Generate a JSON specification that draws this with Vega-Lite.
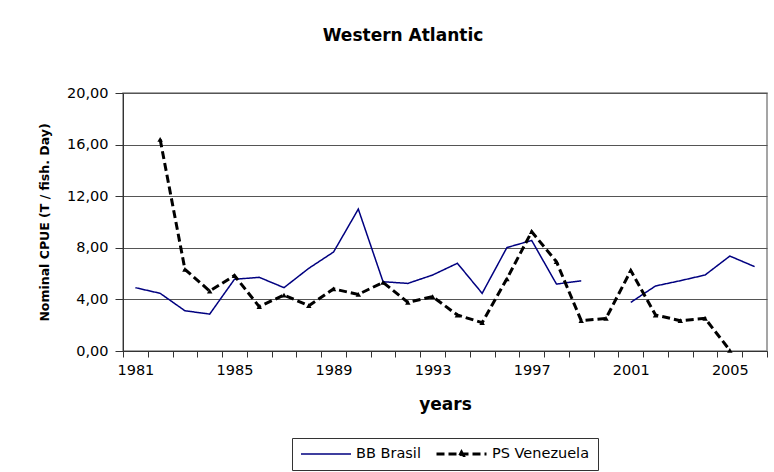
{
  "$schema": "https://vega.github.io/schema/vega-lite/v6.json",
  "autosize": {"type": "none"},
  "padding": {"left": 123, "top": 93, "right": 7, "bottom": 121},
  "width": 644,
  "height": 258,
  "background": "white",
  "title": {
    "text": "Western Atlantic",
    "anchor": "middle",
    "dx": -42,
    "offset": 40,
    "font": "DejaVu Sans",
    "fontSize": 17,
    "fontWeight": "bold",
    "color": "#000"
  },
  "data": {
    "values": [
      {"year": 1981, "series": "BB Brasil", "cpue": 4.91},
      {"year": 1982, "series": "BB Brasil", "cpue": 4.47},
      {"year": 1983, "series": "BB Brasil", "cpue": 3.12},
      {"year": 1984, "series": "BB Brasil", "cpue": 2.86},
      {"year": 1985, "series": "BB Brasil", "cpue": 5.56},
      {"year": 1986, "series": "BB Brasil", "cpue": 5.71},
      {"year": 1987, "series": "BB Brasil", "cpue": 4.91},
      {"year": 1988, "series": "BB Brasil", "cpue": 6.41},
      {"year": 1989, "series": "BB Brasil", "cpue": 7.67},
      {"year": 1990, "series": "BB Brasil", "cpue": 11.0},
      {"year": 1991, "series": "BB Brasil", "cpue": 5.37},
      {"year": 1992, "series": "BB Brasil", "cpue": 5.24},
      {"year": 1993, "series": "BB Brasil", "cpue": 5.89},
      {"year": 1994, "series": "BB Brasil", "cpue": 6.8},
      {"year": 1995, "series": "BB Brasil", "cpue": 4.47},
      {"year": 1996, "series": "BB Brasil", "cpue": 8.02},
      {"year": 1997, "series": "BB Brasil", "cpue": 8.57},
      {"year": 1998, "series": "BB Brasil", "cpue": 5.19},
      {"year": 1999, "series": "BB Brasil", "cpue": 5.44},
      {"year": 2000, "series": "BB Brasil", "cpue": null},
      {"year": 2001, "series": "BB Brasil", "cpue": 3.77},
      {"year": 2002, "series": "BB Brasil", "cpue": 5.04},
      {"year": 2003, "series": "BB Brasil", "cpue": 5.45},
      {"year": 2004, "series": "BB Brasil", "cpue": 5.89},
      {"year": 2005, "series": "BB Brasil", "cpue": 7.36},
      {"year": 2006, "series": "BB Brasil", "cpue": 6.54},
      {"year": 1982, "series": "PS Venezuela", "cpue": 16.4},
      {"year": 1983, "series": "PS Venezuela", "cpue": 6.33},
      {"year": 1984, "series": "PS Venezuela", "cpue": 4.65},
      {"year": 1985, "series": "PS Venezuela", "cpue": 5.85},
      {"year": 1986, "series": "PS Venezuela", "cpue": 3.44},
      {"year": 1987, "series": "PS Venezuela", "cpue": 4.34},
      {"year": 1988, "series": "PS Venezuela", "cpue": 3.51},
      {"year": 1989, "series": "PS Venezuela", "cpue": 4.81},
      {"year": 1990, "series": "PS Venezuela", "cpue": 4.39},
      {"year": 1991, "series": "PS Venezuela", "cpue": 5.32},
      {"year": 1992, "series": "PS Venezuela", "cpue": 3.77},
      {"year": 1993, "series": "PS Venezuela", "cpue": 4.21},
      {"year": 1994, "series": "PS Venezuela", "cpue": 2.79},
      {"year": 1995, "series": "PS Venezuela", "cpue": 2.2},
      {"year": 1996, "series": "PS Venezuela", "cpue": 5.6},
      {"year": 1997, "series": "PS Venezuela", "cpue": 9.25},
      {"year": 1998, "series": "PS Venezuela", "cpue": 6.92},
      {"year": 1999, "series": "PS Venezuela", "cpue": 2.35},
      {"year": 2000, "series": "PS Venezuela", "cpue": 2.53},
      {"year": 2001, "series": "PS Venezuela", "cpue": 6.23},
      {"year": 2002, "series": "PS Venezuela", "cpue": 2.79},
      {"year": 2003, "series": "PS Venezuela", "cpue": 2.35},
      {"year": 2004, "series": "PS Venezuela", "cpue": 2.53},
      {"year": 2005, "series": "PS Venezuela", "cpue": 0.05}
    ]
  },
  "encoding": {
    "x": {
      "field": "year",
      "type": "ordinal",
      "bandPosition": 0.5,
      "scale": {"type": "band", "paddingInner": 0, "paddingOuter": 0},
      "axis": {
        "title": "years",
        "titleFont": "DejaVu Sans",
        "titleFontSize": 17,
        "titleFontWeight": "bold",
        "titleColor": "#000",
        "titlePadding": 20,
        "labelAngle": 0,
        "labelFont": "DejaVu Sans",
        "labelFontSize": 14.5,
        "labelColor": "#000",
        "labelPadding": 6,
        "labelExpr": "(datum.value - 1981) % 4 === 0 ? datum.label : ''",
        "tickBand": "extent",
        "tickSize": 6,
        "tickColor": "#333",
        "domainColor": "#333",
        "grid": false
      }
    },
    "y": {
      "field": "cpue",
      "type": "quantitative",
      "scale": {"domain": [0, 20]},
      "axis": {
        "title": "Nominal CPUE (T / fish. Day)",
        "titleFont": "DejaVu Sans",
        "titleFontSize": 12.5,
        "titleFontWeight": "bold",
        "titleColor": "#000",
        "titlePadding": 15,
        "values": [0, 4, 8, 12, 16, 20],
        "labelExpr": "replace(format(datum.value, '.2f'), '.', ',')",
        "labelFont": "DejaVu Sans",
        "labelFontSize": 14.5,
        "labelColor": "#000",
        "labelPadding": 7,
        "tickSize": 8,
        "tickColor": "#333",
        "domainColor": "#333",
        "grid": true,
        "gridColor": "#555",
        "gridWidth": 1
      }
    }
  },
  "layer": [
    {
      "mark": {"type": "line", "invalid": "break-paths-show-domains"},
      "encoding": {
        "color": {
          "field": "series",
          "type": "nominal",
          "title": null,
          "scale": {"domain": ["BB Brasil", "PS Venezuela"], "range": ["#000080", "#000000"]},
          "legend": {
            "encode": {
              "symbols": {
                "update": {
                  "shape": {"signal": "datum.value === 'PS Venezuela' ? 'M-1,0H1M-0.07,0.06L0,-0.07L0.07,0.06Z' : 'M-1,0H1'"},
                  "fill": {"value": "#000"}
                }
              }
            }
          }
        },
        "strokeDash": {
          "field": "series",
          "type": "nominal",
          "title": null,
          "scale": {"domain": ["BB Brasil", "PS Venezuela"], "range": [[1, 0], [8, 4]]}
        },
        "strokeWidth": {
          "field": "series",
          "type": "nominal",
          "title": null,
          "scale": {"domain": ["BB Brasil", "PS Venezuela"], "range": [1.5, 3]}
        }
      }
    },
    {
      "transform": [{"filter": "datum.series === 'PS Venezuela'"}],
      "mark": {"type": "point", "shape": "triangle-up", "filled": true, "color": "#000", "size": 30, "opacity": 1},
      "encoding": {}
    }
  ],
  "config": {
    "view": {"stroke": "#888", "strokeWidth": 1.5},
    "legend": {
      "orient": "none",
      "legendX": 169,
      "legendY": 345,
      "direction": "horizontal",
      "strokeColor": "#333",
      "fillColor": "white",
      "padding": 8,
      "symbolType": "stroke",
      "symbolSize": 2500,
      "clipHeight": 16,
      "labelFont": "DejaVu Sans",
      "labelFontSize": 14.5,
      "labelColor": "#000",
      "columnPadding": 14,
      "labelOffset": 4
    }
  }
}
